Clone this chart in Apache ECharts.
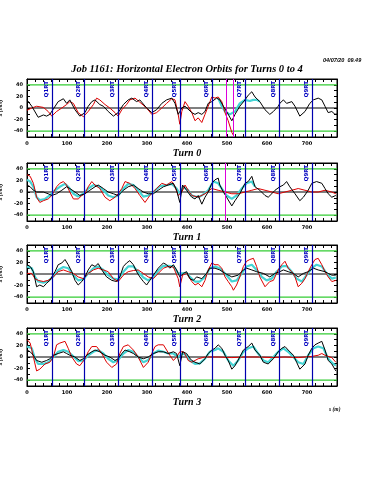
<!DOCTYPE html>
<html>
<head>
<meta charset="utf-8">
<script src="https://cdn.jsdelivr.net/npm/echarts@6/dist/echarts.min.js"></script>
<style>
  html, body { margin: 0; padding: 0; background: #fff; }
  #chart { width: 375px; height: 500px; }
</style>
</head>
<body>
<div id="chart"></div>
<script>
// s (m), x (mm)
const turn0Black = [[0,14],[12,3],[28,-16],[41,-12],[49,-14],[57,-11],[78,11],[91,16],[99,8],[107,14],[120,-3],[132,-14],[145,-8],[153,3],[162,11],[170,14],[182,6],[191,3],[203,-6],[216,-14],[228,-8],[241,6],[253,14],[262,17],[274,11],[282,14],[299,0],[312,-8],[324,-3],[337,8],[349,14],[362,17],[370,8],[378,-11],[382,-14],[387,0],[395,3],[412,-8],[420,-11],[428,-8],[437,-11],[445,-6],[453,8],[462,11],[474,17],[482,14],[491,3],[499,-6],[512,-22],[520,-11],[532,3],[545,14],[553,22],[562,28],[570,19],[582,11],[595,-3],[607,-11],[616,-6],[628,3],[632,8],[641,14],[649,8],[662,11],[670,3],[682,-14],[695,-6],[707,8],[716,14],[728,17],[737,14],[745,3],[753,-8],[762,-6],[770,-11],[774,-10]];
const turn0Red = [[0,-4],[12,0],[24,3],[41,1],[53,-6],[62,-14],[74,-6],[87,0],[99,6],[107,11],[116,8],[128,-8],[141,-15],[153,-6],[166,6],[174,17],[182,14],[195,6],[207,0],[220,-8],[228,-14],[237,-3],[249,6],[257,14],[270,17],[282,10],[299,0],[312,-11],[324,-8],[337,0],[349,8],[362,16],[370,14],[378,-11],[382,-28],[387,-6],[395,11],[403,3],[412,-8],[420,-22],[428,-17],[437,-25],[445,-11],[453,3],[462,19],[470,17],[478,19],[487,11],[495,-8],[503,-22],[512,-42],[516,-47]];
const turn0Cyan = [[478,17],[487,3],[495,-6],[507,-11],[520,-6],[532,8],[545,14],[557,12],[566,14],[574,14],[582,11]];

const turn1Black = [[0,12],[8,9],[16,3],[24,0],[41,0],[53,-3],[62,-6],[74,-3],[87,3],[99,9],[107,6],[120,0],[132,-6],[145,-3],[157,3],[170,9],[178,12],[191,6],[203,0],[216,-3],[228,-6],[241,3],[253,9],[266,12],[278,6],[291,0],[303,-3],[316,-3],[328,3],[341,9],[353,12],[366,15],[374,3],[382,-18],[389,12],[399,3],[407,-5],[412,-9],[420,-12],[428,-6],[437,-21],[445,-9],[453,0],[462,15],[470,21],[478,24],[482,12],[491,0],[499,-9],[512,-24],[520,-15],[532,-3],[545,15],[553,18],[562,27],[570,9],[582,3],[595,-6],[603,-9],[612,-3],[620,3],[632,9],[641,12],[649,18],[657,9],[670,-3],[682,-15],[691,-9],[703,3],[712,15],[724,18],[737,15],[745,6],[753,-3],[762,-9],[772,-6]];
const turn1Red = [[0,30],[8,27],[16,15],[24,-9],[32,-18],[41,-15],[53,-12],[62,-6],[74,9],[82,15],[91,18],[99,12],[107,0],[116,-12],[128,-12],[137,-6],[145,-3],[153,9],[162,18],[170,12],[182,6],[195,-9],[207,-15],[220,-9],[228,-3],[237,6],[245,18],[257,15],[270,6],[282,-6],[295,-18],[307,-6],[316,0],[324,6],[337,15],[349,12],[362,18],[370,9],[378,-6],[387,0],[395,12],[403,3],[412,-6],[428,-9],[445,-3],[462,6],[478,3],[495,0],[512,-3],[528,-3],[545,0],[562,3],[578,6],[595,3],[612,0],[628,-3],[645,0],[662,3],[678,6],[695,3],[712,0],[728,0],[745,3],[762,0],[772,-3]];
const turn1Cyan = [[0,21],[8,18],[16,9],[24,-9],[32,-14],[45,-12],[57,-6],[70,3],[82,9],[95,14],[103,9],[116,-3],[128,-8],[141,-3],[153,6],[166,12],[178,10],[191,3],[203,-6],[216,-9],[228,-6],[241,6],[253,14],[266,12],[278,3],[291,-8],[303,-6],[316,0],[332,10],[349,12],[362,14],[374,6],[382,-3],[391,9],[403,3],[412,-6],[428,-9],[437,-6],[453,3],[466,18],[478,15],[487,6],[499,-6],[512,-12],[524,-6],[537,6],[549,15],[562,18],[570,9]];

const turn2Black = [[0,16],[8,13],[16,4],[24,-22],[32,-19],[41,-22],[49,-16],[57,-11],[70,4],[78,16],[87,19],[95,25],[103,16],[112,4],[120,-11],[128,-19],[137,-13],[145,-5],[153,7],[162,16],[170,13],[178,18],[187,7],[199,-5],[212,-11],[224,-13],[232,-5],[241,13],[249,19],[257,23],[266,16],[274,4],[282,-5],[291,-13],[299,-19],[307,-11],[316,-2],[328,10],[341,19],[349,16],[357,10],[366,16],[374,7],[382,-5],[391,1],[399,4],[407,-8],[416,-11],[424,-5],[437,-8],[449,1],[457,10],[470,10],[482,7],[495,1],[512,-5],[528,-2],[541,7],[549,10],[562,7],[574,4],[591,1],[607,-5],[620,1],[632,4],[641,7],[653,4],[666,1],[678,-5],[691,1],[703,4],[716,10],[728,7],[745,4],[753,1],[762,-2],[772,-2]];
const turn2Red = [[0,1],[12,1],[20,-8],[28,-11],[41,-13],[53,-11],[66,-5],[78,4],[91,7],[103,4],[116,1],[128,-5],[141,-8],[153,1],[166,7],[178,10],[191,7],[203,4],[216,-8],[228,-13],[241,-2],[253,4],[266,6],[278,7],[291,1],[303,-5],[316,-8],[328,1],[341,10],[353,13],[366,12],[378,-8],[382,-22],[389,-2],[399,1],[403,-2],[412,-13],[420,-19],[428,-16],[437,-22],[445,-11],[453,7],[462,19],[470,16],[478,16],[487,10],[495,-5],[503,-13],[512,-22],[516,-28],[524,-19],[532,-5],[541,13],[549,22],[557,25],[566,27],[574,13],[582,-5],[595,-22],[607,-13],[616,-11],[628,7],[637,16],[645,22],[653,10],[662,4],[670,-5],[678,-22],[687,-16],[695,-8],[703,4],[712,16],[720,25],[728,27],[737,16],[745,4],[753,-5],[762,-13],[772,-11]];
const turn2Cyan = [[0,13],[12,10],[20,-5],[28,-13],[41,-15],[53,-12],[66,-4],[78,7],[91,12],[103,10],[116,-2],[128,-11],[141,-9],[153,1],[166,10],[178,13],[191,7],[203,-2],[216,-8],[228,-9],[241,4],[253,13],[266,13],[278,4],[291,-6],[303,-11],[316,-5],[328,6],[341,14],[353,14],[366,13],[378,1],[389,1],[399,2],[407,-5],[420,-13],[432,-13],[445,-5],[457,10],[470,13],[482,10],[495,1],[512,-13],[524,-11],[537,1],[549,13],[562,16],[574,7],[587,-5],[599,-11],[612,-8],[624,4],[637,13],[649,14],[662,4],[674,-8],[687,-13],[699,-2],[712,10],[724,16],[737,13],[749,1],[762,-8],[772,-6]];

const turn3Black = [[0,12],[8,9],[16,3],[24,-6],[37,-9],[49,-6],[57,-3],[66,3],[78,6],[91,9],[99,6],[107,3],[120,0],[132,-6],[141,-3],[149,3],[162,9],[170,12],[182,9],[195,3],[207,0],[220,-6],[228,-3],[237,6],[245,12],[257,9],[266,6],[278,0],[291,-3],[303,0],[316,6],[328,9],[341,9],[353,6],[366,9],[374,6],[382,-15],[389,9],[399,6],[407,-2],[412,-6],[420,-9],[432,-12],[445,-3],[453,6],[462,12],[470,15],[478,21],[487,15],[495,3],[503,-6],[512,-21],[520,-15],[532,0],[541,12],[553,18],[562,24],[570,12],[582,3],[591,-9],[603,-12],[616,-3],[628,9],[637,15],[645,18],[653,12],[666,3],[674,-9],[682,-21],[695,-12],[703,3],[712,15],[720,21],[728,24],[737,27],[745,12],[753,-6],[762,-12],[772,-24]];
const turn3Red = [[0,30],[8,24],[16,0],[24,-24],[32,-21],[45,-12],[57,-9],[66,0],[74,21],[82,24],[95,27],[103,15],[112,0],[124,-12],[132,-15],[145,-3],[153,9],[162,18],[174,18],[187,6],[199,-9],[212,-18],[224,-12],[232,6],[241,18],[253,21],[266,12],[278,0],[291,-18],[303,-9],[312,6],[320,18],[328,21],[341,21],[349,12],[357,3],[366,-6],[374,0],[382,9],[391,9],[399,0],[403,-6],[412,-9],[428,-3],[445,0],[478,0],[512,-1],[545,0],[578,0],[612,-1],[645,0],[678,-1],[712,1],[728,3],[737,6],[745,3],[762,-1],[772,-9]];
const turn3Cyan = [[0,18],[12,15],[20,-3],[28,-12],[41,-12],[53,-9],[66,0],[78,9],[91,12],[103,9],[116,1],[128,-7],[141,-6],[153,3],[166,9],[178,12],[191,6],[203,-3],[216,-9],[228,-5],[241,6],[253,12],[266,9],[278,0],[291,-9],[303,-5],[316,6],[328,11],[341,9],[353,6],[366,6],[378,0],[389,6],[399,3],[407,-6],[420,-12],[432,-11],[445,-3],[457,9],[470,12],[478,15],[491,9],[503,-6],[516,-15],[528,-6],[541,9],[553,15],[566,18],[578,6],[591,-6],[603,-9],[616,0],[628,9],[641,15],[653,9],[666,0],[678,-9],[691,-12],[703,3],[716,15],[728,18],[741,15],[753,-3],[766,-12],[772,-15]];

const quadPos = [62.5, 142.5, 227.5, 312.5, 382.5, 462.5, 545, 630, 712.5];
const quadNames = ['Q1RT', 'Q2RT', 'Q3RT', 'Q4RT', 'Q5RT', 'Q6RT', 'Q7RT', 'Q8RT', 'Q9RT'];
const lossPos = [[497, 515], [495], [], []];
const apertureLimit = 40;
const sRange = [0, 775];
const turnLabels = ['Turn 0', 'Turn 1', 'Turn 2', 'Turn 3'];

const turns = [
  { black: turn0Black, red: turn0Red, cyan: turn0Cyan },
  { black: turn1Black, red: turn1Red, cyan: turn1Cyan },
  { black: turn2Black, red: turn2Red, cyan: turn2Cyan },
  { black: turn3Black, red: turn3Red, cyan: turn3Cyan },
];

const chart = echarts.init(document.getElementById('chart'));
const tops = [79, 163, 245, 328];
const panelH = 58;
const tickFont = { fontSize: 5, fontWeight: 'bold', color: '#000', fontFamily: 'DejaVu Sans' };

const grid = [], xAxis = [], yAxis = [], series = [], title = [];

title.push({
  text: 'Job 1161: Horizontal Electron Orbits for Turns 0 to 4',
  left: 182, top: 59, textAlign: 'center',
  textStyle: { fontFamily: 'Liberation Serif', fontStyle: 'italic', fontWeight: 'bold', fontSize: 10.5, color: '#000' }
});
title.push({
  text: '04/07/20  09.49',
  left: 318, top: 52,
  textStyle: { fontFamily: 'Liberation Sans', fontStyle: 'italic', fontWeight: 'bold', fontSize: 5.5, color: '#000' }
});
title.push({
  text: 's (m)',
  left: 324, top: 402,
  textStyle: { fontFamily: 'Liberation Serif', fontStyle: 'italic', fontSize: 5.5, color: '#000' }
});

// plain line through the whole s range at a fixed x
function hline(i, v, color, width, z) {
  return {
    type: 'line', xAxisIndex: i * 2, yAxisIndex: i * 2, silent: true,
    data: sRange.map(s => [s, v]), showSymbol: false,
    lineStyle: { color: color, width: width }, z: z
  };
}

tops.forEach((top, i) => {
  grid.push({
    left: 27, right: 38, top: top, height: panelH, containLabel: false, outerBoundsMode: 'none',
    show: true, borderColor: '#000', borderWidth: 1, backgroundColor: '#fff'
  });
  const xBase = {
    gridIndex: i, type: 'value', min: sRange[0], max: sRange[1], interval: 20,
    axisLine: { show: true, onZero: false, lineStyle: { color: '#000', width: 1 } },
    axisTick: { show: true, inside: true, length: 3, lineStyle: { color: '#000' } },
    splitLine: { show: false }
  };
  xAxis.push(Object.assign({}, xBase, {
    position: 'bottom',
    axisLabel: Object.assign({ margin: 4, formatter: v => (v % 100 === 0 ? String(v) : '') }, tickFont)
  }));
  xAxis.push(Object.assign({}, xBase, { position: 'top', axisLabel: { show: false } }));
  const yBase = {
    gridIndex: i, type: 'value', min: -50, max: 50, interval: 10,
    axisLine: { show: true, onZero: false, lineStyle: { color: '#000', width: 1 } },
    axisTick: { show: true, inside: true, length: 3, lineStyle: { color: '#000' } },
    splitLine: { show: false }
  };
  yAxis.push(Object.assign({}, yBase, {
    position: 'left',
    name: 'x (mm)', nameLocation: 'middle', nameGap: 15,
    nameTextStyle: { fontSize: 5, fontStyle: 'italic', fontWeight: 'bold', color: '#000' },
    axisLabel: Object.assign({ margin: 4, formatter: v => (v % 20 === 0 && Math.abs(v) < 50 ? String(v) : '') }, tickFont)
  }));
  yAxis.push(Object.assign({}, yBase, { position: 'right', axisLabel: { show: false } }));

  title.push({
    text: turnLabels[i], left: 182, top: top + panelH + 6, textAlign: 'center',
    textStyle: { fontFamily: 'Liberation Serif', fontStyle: 'italic', fontWeight: 'bold', fontSize: 10, color: '#000' }
  });

  series.push(hline(i, apertureLimit, '#33cc33', 1.2, 1));
  series.push(hline(i, -apertureLimit, '#33cc33', 1.2, 1));
  series.push(hline(i, 0, '#000', 1, 1));

  const vlines = [];
  quadPos.forEach((p, k) => {
    vlines.push({
      xAxis: p, name: quadNames[k],
      lineStyle: { color: '#0000b0', width: 1.2, type: 'solid' },
      label: {
        show: true, formatter: '{b}', position: 'insideEndTop', distance: 2,
        fontSize: 5.5, fontWeight: 'bold', color: '#0000c0', fontFamily: 'DejaVu Sans'
      }
    });
  });
  lossPos[i].forEach(p => {
    vlines.push({ xAxis: p, lineStyle: { color: '#dd00dd', width: 1, type: 'solid' } });
  });

  const t = turns[i];
  series.push({
    type: 'line', xAxisIndex: i * 2, yAxisIndex: i * 2, data: t.cyan,
    showSymbol: false, lineStyle: { color: '#44d4d4', width: 2.2 }, z: 2,
    markLine: { silent: true, symbol: 'none', animation: false, label: { show: false }, data: vlines }
  });
  series.push({
    type: 'line', xAxisIndex: i * 2, yAxisIndex: i * 2, data: t.red,
    showSymbol: false, lineStyle: { color: '#dd0000', width: 1 }, z: 3
  });
  series.push({
    type: 'line', xAxisIndex: i * 2, yAxisIndex: i * 2, data: t.black,
    showSymbol: false, lineStyle: { color: '#000', width: 1 }, z: 4
  });
});

chart.setOption({ animation: false, backgroundColor: '#fff', title, grid, xAxis, yAxis, series });
</script>
</body>
</html>
